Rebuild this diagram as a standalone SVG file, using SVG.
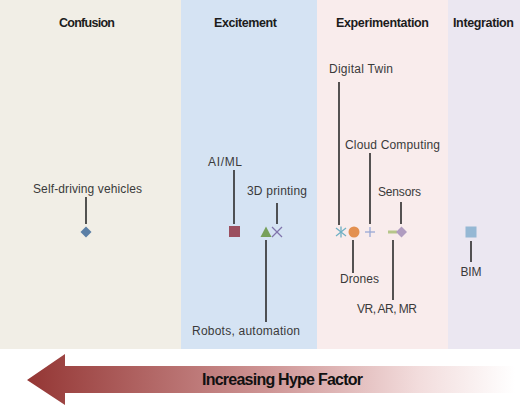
<svg xmlns="http://www.w3.org/2000/svg" width="520" height="406" viewBox="0 0 520 406">
<style>
.title{font-family:"Liberation Sans",Arial,sans-serif;font-weight:bold;font-size:12.5px;fill:#1c1c1c;text-anchor:middle}
.lbl{font-family:"Liberation Sans",Arial,sans-serif;font-size:12px;fill:#3a3a3a;text-anchor:middle}
.lead{stroke:#2b2b2b;stroke-width:1.6;fill:none}
.big{font-family:"Liberation Sans",Arial,sans-serif;font-weight:bold;font-size:16px;fill:#111}
</style>
<defs>
<linearGradient id="arrowGrad" x1="27" y1="0" x2="515" y2="0" gradientUnits="userSpaceOnUse">
<stop offset="0" stop-color="#943634"/>
<stop offset="0.5" stop-color="#cf9696"/>
<stop offset="0.8" stop-color="#f2dcdc"/>
<stop offset="1" stop-color="#ffffff"/>
</linearGradient>
</defs>
<rect x="0" y="0" width="520" height="406" fill="#ffffff"/>
<g id="panels">
<rect x="0" y="0" width="181" height="349" fill="#f1eee6"/>
<rect x="181" y="0" width="136" height="349" fill="#d5e3f3"/>
<rect x="317" y="0" width="131" height="349" fill="#f9ecec"/>
<rect x="448" y="0" width="72" height="349" fill="#ebe7f1"/>
<text class="title" x="87" y="27" textLength="56">Confusion</text>
<text class="title" x="245.5" y="27" textLength="63">Excitement</text>
<text class="title" x="382.5" y="27" textLength="93">Experimentation</text>
<text class="title" x="483.5" y="27" textLength="61">Integration</text>
</g>
<g id="connectors">
<line class="lead" x1="86" y1="197" x2="86" y2="224"/>
<line class="lead" x1="234" y1="170" x2="234" y2="224"/>
<line class="lead" x1="277" y1="203" x2="277" y2="224"/>
<line class="lead" x1="266" y1="240" x2="266" y2="322"/>
<line class="lead" x1="339" y1="82" x2="339" y2="225"/>
<line class="lead" x1="370" y1="153" x2="370" y2="224"/>
<line class="lead" x1="401" y1="202" x2="401" y2="224"/>
<line class="lead" x1="353" y1="240" x2="353" y2="273"/>
<line class="lead" x1="393" y1="240" x2="393" y2="300"/>
<line class="lead" x1="471" y1="241" x2="471" y2="262"/>
</g>
<g id="self-driving">
<polygon points="86,226.5 91.5,232 86,237.5 80.5,232" fill="#5b7fa6"/>
<text class="lbl" x="87.5" y="193" textLength="109">Self-driving vehicles</text>
</g>
<g id="aiml">
<rect x="229" y="226" width="11" height="11" fill="#9b4f5f"/>
<text class="lbl" x="225" y="166" textLength="34">AI/ML</text>
</g>
<g id="3d-printing">
<line x1="272" y1="227" x2="282" y2="237" stroke="#8075ac" stroke-width="1.3"/>
<line x1="282" y1="227" x2="272" y2="237" stroke="#8075ac" stroke-width="1.3"/>
<text class="lbl" x="277" y="195" textLength="60">3D printing</text>
</g>
<g id="robots">
<polygon points="266,226.5 271.5,237 260.5,237" fill="#77a05a"/>
<text class="lbl" x="246" y="335" textLength="108">Robots, automation</text>
</g>
<g id="digital-twin">
<g stroke="#6fb0c4" stroke-width="1.3">
<line x1="341" y1="226.5" x2="341" y2="237.5"/>
<line x1="336" y1="228" x2="346" y2="236"/>
<line x1="346" y1="228" x2="336" y2="236"/>
</g>
<text class="lbl" x="361" y="73" textLength="64">Digital Twin</text>
</g>
<g id="drones">
<circle cx="354" cy="232" r="5.5" fill="#e39050"/>
<text class="lbl" x="359.5" y="283" textLength="39">Drones</text>
</g>
<g id="cloud-computing">
<g stroke="#9aa9d6" stroke-width="1.3">
<line x1="365" y1="232" x2="375" y2="232"/>
<line x1="370" y1="227" x2="370" y2="237"/>
</g>
<text class="lbl" x="392.5" y="149" textLength="95">Cloud Computing</text>
</g>
<g id="vr-ar-mr">
<line x1="388" y1="232" x2="397" y2="232" stroke="#b6c68a" stroke-width="3"/>
<text class="lbl" x="387" y="313" textLength="60">VR, AR, MR</text>
</g>
<g id="sensors">
<polygon points="401.5,226.5 407,232 401.5,237.5 396,232" fill="#b09cc0"/>
<text class="lbl" x="399.5" y="196" textLength="43">Sensors</text>
</g>
<g id="bim">
<rect x="465.5" y="226.5" width="11" height="11" fill="#95b8d4"/>
<text class="lbl" x="471" y="276" textLength="21">BIM</text>
</g>
<g id="hype-arrow">
<polygon points="27,380 65,354 65,366 515,366 515,393 65,393 65,405" fill="url(#arrowGrad)"/>
<text class="big" x="202" y="385" textLength="161">Increasing Hype Factor</text>
</g>
</svg>
